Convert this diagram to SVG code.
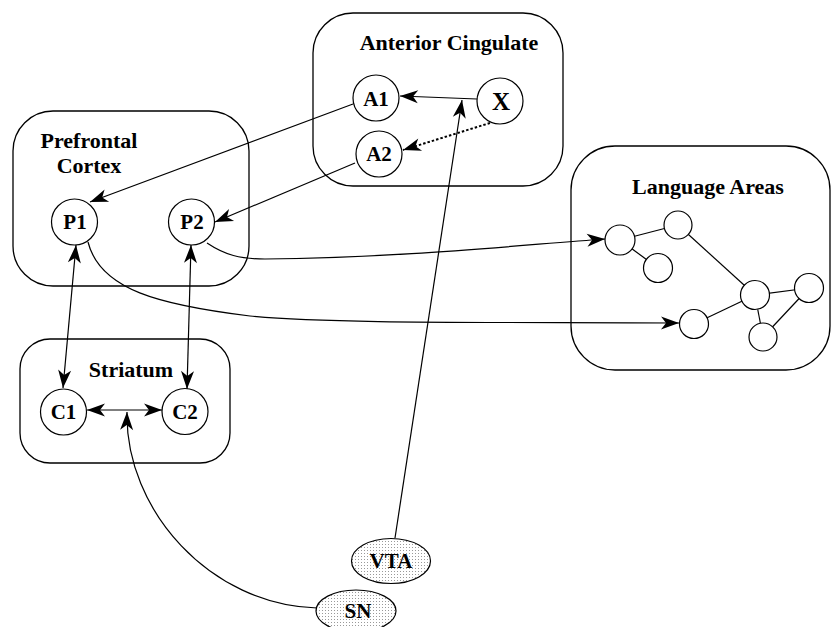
<svg xmlns="http://www.w3.org/2000/svg" width="831" height="627" viewBox="0 0 831 627">
<style>
.box{fill:none;stroke:#000;stroke-width:1.3}
.nd{fill:#fff;stroke:#000;stroke-width:1.2}
.ell{fill:url(#stip);stroke:#000;stroke-width:1.2}
.ttl{font-family:"Liberation Serif","Times New Roman",serif;font-weight:bold;font-size:22px;text-anchor:middle;fill:#000}
.lbl{font-family:"Liberation Serif","Times New Roman",serif;font-weight:bold;font-size:21px;text-anchor:middle;fill:#000}
.cn{fill:none;stroke:#000;stroke-width:1.2}
.arr{marker-end:url(#ah)}
.bi{marker-start:url(#ah);marker-end:url(#ah)}
.dot{stroke-width:2;stroke-dasharray:2.5 2}
.le{stroke:#000;stroke-width:1.2}
</style>
<defs>
<marker id="ah" viewBox="-19 -7 20 14" refX="0" refY="0" markerWidth="20" markerHeight="14" markerUnits="userSpaceOnUse" orient="auto-start-reverse">
<path d="M0,0 L-18,-6.5 L-13,0 L-18,6.5 Z" fill="#000"/>
</marker>
<pattern id="stip" width="3" height="3" patternUnits="userSpaceOnUse">
<rect width="3" height="3" fill="#fff"/>
<rect x="1" y="1" width="1" height="1" fill="#999"/>
</pattern>
</defs>
<rect width="831" height="627" fill="#fff"/>

<g id="anterior-cingulate">
<rect class="box" x="313" y="13" width="250" height="173" rx="40" ry="40"/>
<text class="ttl" x="449" y="50">Anterior Cingulate</text>
</g>
<g id="prefrontal-cortex">
<rect class="box" x="13" y="111" width="236" height="175" rx="40" ry="40"/>
<text class="ttl" x="89" y="148">Prefrontal</text>
<text class="ttl" x="89" y="173">Cortex</text>
</g>
<g id="striatum">
<rect class="box" x="20" y="339" width="210" height="124" rx="30" ry="30"/>
<text class="ttl" x="131" y="377">Striatum</text>
</g>
<g id="language-areas">
<rect class="box" x="571" y="146" width="259" height="224" rx="44" ry="44"/>
<text class="ttl" x="708" y="194">Language Areas</text>
<line class="le" x1="620" y1="240" x2="678" y2="225"/>
<line class="le" x1="620" y1="240" x2="658" y2="268"/>
<line class="le" x1="678" y1="225" x2="755" y2="295"/>
<line class="le" x1="755" y1="295" x2="809" y2="288"/>
<line class="le" x1="755" y1="295" x2="763" y2="337"/>
<line class="le" x1="809" y1="288" x2="763" y2="337"/>
<line class="le" x1="694" y1="324" x2="755" y2="295"/>
<circle class="nd" cx="620" cy="240" r="15"/>
<circle class="nd" cx="678" cy="225" r="14"/>
<circle class="nd" cx="658" cy="268" r="14.5"/>
<circle class="nd" cx="755" cy="295" r="14.5"/>
<circle class="nd" cx="809" cy="288" r="14.5"/>
<circle class="nd" cx="763" cy="337" r="14"/>
<circle class="nd" cx="694" cy="324" r="14.5"/>
</g>

<g id="connectors">
<path class="cn arr" d="M477,99 L400,96"/>
<path class="cn arr dot" d="M490,123 L403,150"/>
<path class="cn arr" d="M353,104 L90,202"/>
<path class="cn arr" d="M355,163 L215,222"/>
<path class="cn arr" d="M395,538 L462,100"/>
<path class="cn bi" d="M76,245 L63,388"/>
<path class="cn bi" d="M191,245 L187,389"/>
<path class="cn bi" d="M87,410 L162,410"/>
<path class="cn arr" d="M317,608 C210,605 125,510 127,412"/>
<path class="cn arr" d="M207,243 C225,255 240,259 265,259 C400,258 520,245 605,239"/>
<path class="cn arr" d="M88,242 C100,290 160,305 250,316 C330,324 500,322 679,323"/>
</g>

<g id="node-A1"><circle class="nd" cx="376" cy="98" r="23"/><text class="lbl" x="376" y="106">A1</text></g>
<g id="node-A2"><circle class="nd" cx="379" cy="154" r="23"/><text class="lbl" x="379" y="161">A2</text></g>
<g id="node-X"><circle class="nd" cx="500" cy="101" r="23"/><text class="lbl" x="501" y="110" style="font-size:25px">X</text></g>
<g id="node-P1"><circle class="nd" cx="74.5" cy="222" r="23"/><text class="lbl" x="75" y="229">P1</text></g>
<g id="node-P2"><circle class="nd" cx="191.5" cy="222" r="23"/><text class="lbl" x="192" y="229">P2</text></g>
<g id="node-C1"><circle class="nd" cx="63.5" cy="412" r="23"/><text class="lbl" x="63.5" y="419">C1</text></g>
<g id="node-C2"><circle class="nd" cx="185" cy="411.5" r="23"/><text class="lbl" x="185" y="419">C2</text></g>
<g id="node-VTA"><ellipse class="ell" cx="391" cy="561" rx="39.5" ry="22.5"/><text class="lbl" x="391" y="568">VTA</text></g>
<g id="node-SN"><ellipse class="ell" cx="356" cy="611" rx="40" ry="21"/><text class="lbl" x="358" y="618">SN</text></g>
</svg>
